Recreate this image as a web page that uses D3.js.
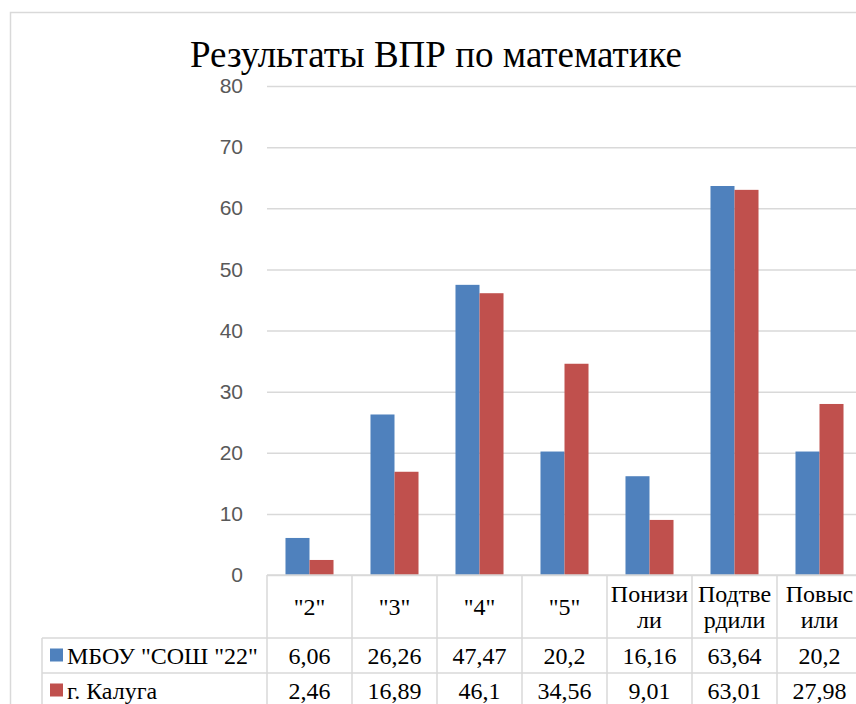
<!DOCTYPE html>
<html>
<head>
<meta charset="utf-8">
<script src="https://cdn.jsdelivr.net/npm/d3@7"></script>
<style>
  body { margin: 0; background: #fff; }
  svg { display: block; }
</style>
</head>
<body>
<script>
// Chart data
var categories = ['"2"', '"3"', '"4"', '"5"', "Понизи\nли", "Подтве\nрдили", "Повыс\nили"];
var seriesNames = ['МБОУ "СОШ "22"', "г. Калуга"];
var schoolValues = [6.06, 26.26, 47.47, 20.2, 16.16, 63.64, 20.2];
var cityValues = [2.46, 16.89, 46.1, 34.56, 9.01, 63.01, 27.98];
var yTicks = [0, 10, 20, 30, 40, 50, 60, 70, 80];
var colors = ["#4F81BD", "#C0504D"];

var svgWidth = 856;
var svgHeight = 704;

// plot area
var plot = { left: 267, right: 862, top: 86, bottom: 575 };
var rowH = [63, 35, 35];
var legendLeft = 42;
var serif = "Liberation Serif";
var sans = "Liberation Sans";

var svg = d3.select("body")
  .append("svg")
  .attr("width", svgWidth)
  .attr("height", svgHeight);

// outer chart border
svg.append("rect")
  .attr("x", 10.5).attr("y", 12.5)
  .attr("width", 900).attr("height", 800)
  .attr("fill", "#fff")
  .attr("stroke", "#d9d9d9")
  .attr("stroke-width", 1.5);

// title
svg.append("text")
  .attr("x", 436)
  .attr("y", 67)
  .attr("text-anchor", "middle")
  .attr("font-family", serif)
  .attr("font-size", 37)
  .attr("fill", "#000")
  .text("Результаты ВПР по математике");

var x = d3.scaleBand()
  .domain(d3.range(categories.length))
  .range([plot.left, plot.right])
  .paddingInner(0.435)
  .paddingOuter(0.2175);

var x1 = d3.scaleBand()
  .domain([0, 1])
  .range([0, x.bandwidth()]);

var y = d3.scaleLinear()
  .domain([0, 80])
  .range([plot.bottom, plot.top]);

// gridlines + y labels
var yAxis = d3.axisLeft(y)
  .tickValues(yTicks)
  .tickSize(-(plot.right - plot.left))
  .tickPadding(24);

var yg = svg.append("g")
  .attr("transform", "translate(" + plot.left + ",0)")
  .call(yAxis);
yg.attr("font-family", sans).attr("font-size", 21);
yg.select(".domain").remove();
yg.selectAll(".tick line")
  .attr("stroke", "#d9d9d9")
  .attr("stroke-width", 1.5);
yg.selectAll(".tick text")
  .attr("fill", "#595959");

// bars
var seriesData = [schoolValues, cityValues];
seriesData.forEach(function(vals, s) {
  svg.append("g")
    .selectAll("rect")
    .data(vals)
    .enter()
    .append("rect")
    .attr("x", function(d, i) { return x(i) + x1(s); })
    .attr("y", function(d) { return y(d); })
    .attr("width", x1.bandwidth())
    .attr("height", function(d) { return y(0) - y(d); })
    .attr("fill", colors[s]);
});

// data table
var fmt = function(v) { return String(v).replace(".", ","); };
var table = svg.append("g")
  .attr("font-family", serif)
  .attr("font-size", 24)
  .attr("fill", "#000");
var step = x.step();
var colLeft = function(i) { return plot.left + i * step; };
var rowTop = [plot.bottom, plot.bottom + rowH[0], plot.bottom + rowH[0] + rowH[1]];
var tableBottom = rowTop[2] + rowH[2];
var lineColor = "#d9d9d9";

// horizontal lines
table.append("line")
  .attr("x1", plot.left).attr("x2", plot.right)
  .attr("y1", rowTop[0]).attr("y2", rowTop[0])
  .attr("stroke", lineColor).attr("stroke-width", 1.5);
[rowTop[1], rowTop[2], tableBottom].forEach(function(yy) {
  table.append("line")
    .attr("x1", legendLeft).attr("x2", plot.right)
    .attr("y1", yy).attr("y2", yy)
    .attr("stroke", lineColor).attr("stroke-width", 1.5);
});
// vertical lines
d3.range(categories.length + 1).forEach(function(i) {
  table.append("line")
    .attr("x1", colLeft(i)).attr("x2", colLeft(i))
    .attr("y1", rowTop[0]).attr("y2", tableBottom)
    .attr("stroke", lineColor).attr("stroke-width", 1.5);
});
table.append("line")
  .attr("x1", legendLeft).attr("x2", legendLeft)
  .attr("y1", rowTop[1]).attr("y2", tableBottom)
  .attr("stroke", lineColor).attr("stroke-width", 1.5);

// category header
categories.forEach(function(c, i) {
  var lines = c.split("\n");
  var cx = colLeft(i) + step / 2;
  var cy = rowTop[0] + rowH[0] / 2;
  var lh = 26;
  var t = table.append("text")
    .attr("text-anchor", "middle");
  lines.forEach(function(l, k) {
    t.append("tspan")
      .attr("x", cx)
      .attr("y", cy + (k - (lines.length - 1) / 2) * lh)
      .attr("dy", "0.35em")
      .text(l);
  });
});

// series rows
seriesData.forEach(function(vals, s) {
  var cy = rowTop[s + 1] + rowH[s + 1] / 2;
  table.append("rect")
    .attr("x", 50).attr("y", cy - 7)
    .attr("width", 13).attr("height", 13)
    .attr("fill", colors[s]);
  table.append("text")
    .attr("x", 67).attr("y", cy)
    .attr("dy", "0.35em")
    .text(seriesNames[s]);
  table.append("g")
    .selectAll("text")
    .data(vals)
    .enter()
    .append("text")
    .attr("x", function(d, i) { return colLeft(i) + step / 2; })
    .attr("y", cy)
    .attr("dy", "0.35em")
    .attr("text-anchor", "middle")
    .text(fmt);
});
</script>
</body>
</html>
